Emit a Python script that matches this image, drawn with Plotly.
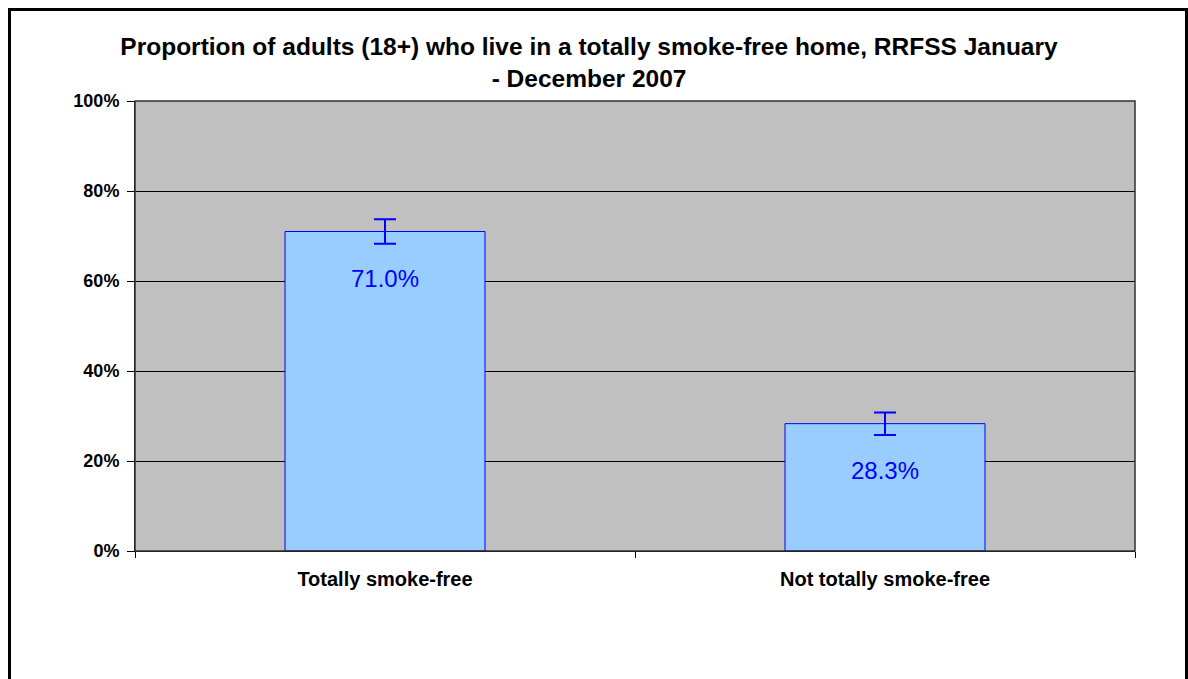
import plotly.graph_objects as go

categories = ["Totally smoke-free", "Not totally smoke-free"]
values = [71.0, 28.3]
errors = [2.7, 2.5]
y_ticks = [0, 20, 40, 60, 80, 100]
y_tick_labels = ["0%", "20%", "40%", "60%", "80%", "100%"]
title_text = "Proportion of adults (18+) who live in a totally smoke-free home, RRFSS January<br>- December 2007"

FONT = "Arial, 'Liberation Sans', sans-serif"

fig = go.Figure()
fig.add_trace(go.Bar(
    x=categories,
    y=values,
    marker=dict(color="#99CCFF", line=dict(color="#0000FF", width=1)),
    error_y=dict(type="data", array=errors, visible=True, color="#0000FF", thickness=2, width=11),
    hoverinfo="skip",
))

annotations = []
for c, v in zip(categories, values):
    annotations.append(dict(
        x=c, y=v, xref="x", yref="y", text=f"{v:.1f}%", showarrow=False,
        yshift=-47, font=dict(family=FONT, size=24, color="#0000FF"),
        xanchor="center", yanchor="middle",
    ))

fig.update_layout(
    width=1188, height=679,
    margin=dict(l=135, r=53, t=101, b=128, pad=0),
    paper_bgcolor="white",
    plot_bgcolor="#C0C0C0",
    showlegend=False,
    bargap=0.6,
    title=dict(
        text=title_text, x=0.4958, xref="container", xanchor="center",
        y=1 - 55 / 679, yref="container", yanchor="top",
        font=dict(family=FONT, size=24.5, color="black", weight="bold"),
    ),
    annotations=annotations,
    xaxis=dict(
        type="category",
        tickson="boundaries",
        ticks="outside", ticklen=6, tickcolor="black", tickwidth=1,
        showline=True, linecolor="black", linewidth=1,
        showgrid=False,
        tickfont=dict(family=FONT, size=20, color="black", weight="bold"),
        ticklabelstandoff=10,
    ),
    yaxis=dict(
        range=[0, 100],
        tickvals=y_ticks, ticktext=y_tick_labels,
        ticks="outside", ticklen=7, tickcolor="black", tickwidth=1,
        showline=True, linecolor="black", linewidth=1,
        showgrid=True, gridcolor="black", gridwidth=1,
        zeroline=False,
        tickfont=dict(family=FONT, size=18, color="black", weight="bold"),
        ticklabelstandoff=4,
    ),
    shapes=[
        dict(type="rect", xref="paper", yref="paper", x0=0, x1=1, y0=0, y1=1,
             line=dict(color="#303030", width=1.5), fillcolor="rgba(0,0,0,0)", layer="above"),
        dict(type="rect", xref="paper", yref="paper",
             x0=(9.5 - 135) / 1000, x1=(1186.5 - 135) / 1000,
             y0=-(700 - 551) / 450, y1=1 + (101 - 9.5) / 450,
             line=dict(color="black", width=3), fillcolor="rgba(0,0,0,0)", layer="above"),
    ],
)

fig.write_html(
    "out.html",
    config={"displayModeBar": False},
    post_script="document.body.style.margin='0';document.body.style.overflow='hidden';",
)
